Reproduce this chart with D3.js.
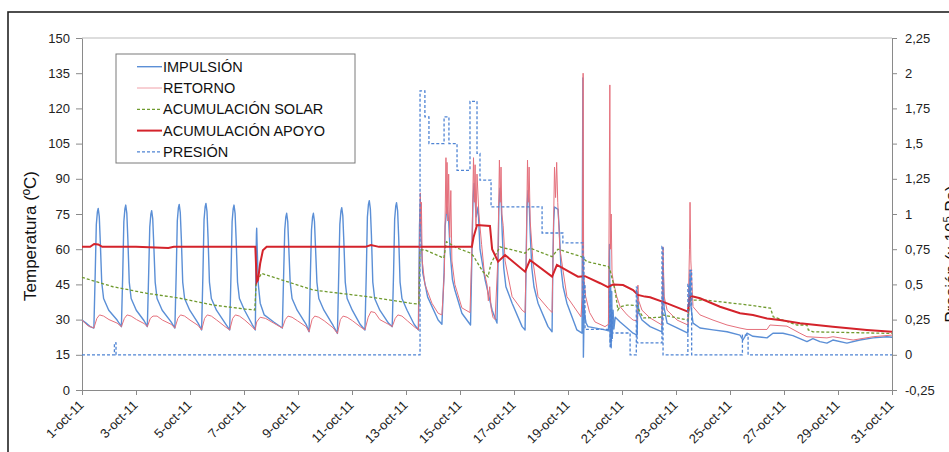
<!DOCTYPE html>
<html><head><meta charset="utf-8">
<script src="https://cdn.jsdelivr.net/npm/d3@7"></script>
<style>
html,body{margin:0;padding:0;background:#fff;overflow:hidden}
svg{display:block;font-family:"Liberation Sans",Arial,sans-serif}
</style></head><body>
<svg id="c" width="949" height="452"></svg>
<script>
// ---------- tick labels ----------
const xTickValues = [1,3,5,7,9,11,13,15,17,19,21,23,25,27,29,31];
const xTickLabels = ["1-oct-11","3-oct-11","5-oct-11","7-oct-11","9-oct-11","11-oct-11","13-oct-11","15-oct-11","17-oct-11","19-oct-11","21-oct-11","23-oct-11","25-oct-11","27-oct-11","29-oct-11","31-oct-11"];
const tempTicks = [0,15,30,45,60,75,90,105,120,135,150];
const presTicks = [-0.25,0,0.25,0.5,0.75,1,1.25,1.5,1.75,2,2.25];
const presTickLabels = ["-0,25","0","0,25","0,5","0,75","1","1,25","1,5","1,75","2","2,25"];
const seriesNames = ["IMPULSIÓN","RETORNO","ACUMULACIÓN SOLAR","ACUMULACIÓN APOYO","PRESIÓN"];

// ---------- series: [day of October, value] ----------
const impulsion = [
[1,29.8],[1.15,28.5],[1.3,27],[1.44,26.4],
[1.49,50],[1.53,70.4],[1.57,75.9],[1.6,77.4],[1.64,73.9],[1.68,62.4],[1.73,46],[1.8,39],[1.99,34],[2.3,29.8],[2.46,27],
[2.51,50],[2.55,71.8],[2.59,77.3],[2.62,78.8],[2.66,75.3],[2.7,63.8],[2.75,46],[2.82,39],[3.01,34],[3.3,29.5],[3.42,27],
[3.47,50],[3.51,69.4],[3.55,74.9],[3.58,76.4],[3.62,72.9],[3.66,61.4],[3.71,46],[3.78,39],[3.97,34],[4.3,29],[4.44,26.4],
[4.49,50],[4.53,72.1],[4.57,77.6],[4.6,79.1],[4.64,75.6],[4.68,64.1],[4.73,46],[4.8,39],[4.99,34],[5.3,28.5],[5.43,25.6],
[5.48,50],[5.52,72.5],[5.56,78],[5.59,79.5],[5.63,76],[5.67,64.5],[5.72,46],[5.79,39],[5.98,34],[6.33,28],[6.47,25.6],
[6.52,50],[6.56,71.8],[6.6,77.3],[6.63,78.8],[6.67,75.3],[6.71,63.8],[6.76,46],[6.83,39],[7.02,34],[7.3,28],[7.42,25.6],
[7.44,50],[7.46,66],[7.47,68.9],[7.49,60],[7.53,45],[7.6,37],[7.75,32],[8.1,29],[8.42,26.4],
[8.47,50],[8.51,68.3],[8.55,73.8],[8.58,75.3],[8.62,71.8],[8.66,60.3],[8.71,46],[8.78,39],[8.97,34],[9.3,28],[9.41,24.8],
[9.46,50],[9.5,68.3],[9.54,73.8],[9.57,75.3],[9.61,71.8],[9.65,60.3],[9.7,46],[9.77,39],[9.96,34],[10.3,27.5],[10.46,24.1],
[10.51,50],[10.55,70.7],[10.59,76.2],[10.62,77.7],[10.66,74.2],[10.7,62.7],[10.75,46],[10.82,39],[11.01,34],[11.3,28],[11.48,25.6],
[11.53,50],[11.57,73.7],[11.61,79.2],[11.64,80.7],[11.68,77.2],[11.72,65.7],[11.77,46],[11.84,39],[12.03,34],[12.35,28.5],[12.49,27],
[12.54,50],[12.58,72.8],[12.62,78.3],[12.65,79.8],[12.69,76.3],[12.73,64.8],[12.78,46],[12.85,39],[13.04,34],[13.3,28],[13.46,25.6],
[13.5,70],[13.53,80],[13.56,65],[13.62,50],[13.8,39.7],[14.19,29.8],[14.33,28],
[14.41,50],[14.45,70],[14.52,78],[14.58,72],[14.64,58],[14.72,47],[14.81,42.6],[15.07,32.7],[15.39,27.7],
[15.48,80],[15.52,88],[15.6,73.8],[15.67,78],[15.74,60],[15.93,46.9],[16.19,34],[16.37,28.5],
[16.41,55],[16.44,78],[16.48,86],[16.52,82],[16.56,68],[16.62,52],[16.7,44],[16.93,37],[17.3,27],[17.41,25.6],
[17.45,55],[17.48,77],[17.52,85],[17.56,81],[17.6,67],[17.66,52],[17.74,44],[17.89,37],[18.26,27],[18.41,24.8],
[18.44,55],[18.47,72],[18.5,78],[18.63,77],[18.68,68],[18.74,52],[18.82,44],[18.96,37],[19.33,25.6],[19.52,24.2],
[19.55,133],[19.57,14],[19.6,35],[19.63,31.2],[19.67,28.5],[19.74,27],[20.37,25.6],
[20.5,25.2],[20.54,62],[20.56,20],[20.58,45],[20.6,18],[20.62,42],[20.64,22],[20.67,34],[20.7,26],[20.75,31],[20.93,29],[21.19,26.4],[21.41,24.2],[21.56,23.4],
[21.59,39.8],[21.62,33],[21.74,29.8],[22.04,27],[22.48,24.8],
[22.52,53.3],[22.56,35],[22.67,28.5],[23.04,26.5],[23.44,24.2],
[23.52,51],[23.56,35],[23.63,28.5],[23.89,26.4],[24.37,25.6],[24.89,24.8],[25.37,23.4],[25.48,21.3],[25.63,24.2],[25.85,22.9],[26.37,22.2],[26.59,24.2],[26.96,24.2],[27.33,23.2],[27.85,20.6],[28.07,21.9],[28.33,20.6],[28.59,20],[28.81,21.3],[29.33,20],[29.81,21.3],[30.3,22.2],[30.81,22.7],[31,22.5]
];
const retorno = [
[1,29.8],[1.2,27.5],[1.44,26.4],
[1.55,30.5],[1.65,32],[1.8,31.5],[2.0,30],[2.3,28.5],[2.46,27],
[2.57,30.5],[2.67,32],[2.82,31.5],[3.02,30],[3.3,28.3],[3.42,27],
[3.53,30.5],[3.63,31.5],[3.78,31.5],[3.98,29.8],[4.3,28],[4.44,26.4],
[4.55,30.5],[4.65,32],[4.8,31.5],[5.0,29.8],[5.3,27.5],[5.43,25.6],
[5.54,30.5],[5.64,32],[5.79,31.5],[5.99,29.8],[6.3,27],[6.47,25.6],
[6.58,30.5],[6.68,32],[6.83,31.5],[7.03,29.8],[7.3,27],[7.41,25.6],
[7.47,29],[7.6,31],[7.8,30.5],[8.1,28.5],[8.42,26.4],
[8.53,30],[8.63,31.5],[8.78,31],[8.98,29.5],[9.3,27],[9.41,24.8],
[9.52,30],[9.62,31.5],[9.77,31],[9.97,29.5],[10.3,26.5],[10.46,24.1],
[10.57,30],[10.67,31.5],[10.82,31],[11.02,29.5],[11.3,27],[11.48,25.6],
[11.6,31],[11.7,33.4],[11.85,33],[12.03,30],[12.35,28],[12.49,27],
[12.6,30.5],[12.7,32],[12.85,31.5],[13.05,29.5],[13.3,27],[13.46,25.6],
[13.5,60],[13.53,84],[13.55,70],[13.57,80],[13.6,55],[13.7,45],[13.96,37],[14.19,32.7],[14.33,32],
[14.42,50],[14.48,99],[14.5,75],[14.52,97],[14.55,72],[14.58,92],[14.62,65],[14.66,85],[14.7,55],[14.81,45],[15.07,35],[15.37,33],
[15.44,60],[15.5,99],[15.53,80],[15.56,96],[15.59,70],[15.63,92],[15.7,75],[15.8,62],[15.9,50],[16.0,45],[16.05,38],[16.1,44],[16.15,35],[16.22,31],[16.3,30],
[16.4,55],[16.46,98],[16.49,80],[16.52,95],[16.55,75],[16.6,70],[16.67,55],[16.93,39.8],[17.3,34],[17.41,33],
[17.45,55],[17.5,98],[17.53,80],[17.56,95],[17.6,72],[17.7,55],[17.89,39.8],[18.26,34.8],[18.41,33],
[18.45,60],[18.5,95],[18.54,82],[18.58,97],[18.62,80],[18.7,60],[18.96,39.8],[19.48,31.2],
[19.53,40],[19.56,135],[19.58,50],[19.61,45],[19.65,40],[19.8,33],[20.0,29],[20.37,27],
[20.5,28],[20.55,130],[20.57,60],[20.6,75],[20.63,50],[20.67,46.9],[20.8,40],[20.93,35.5],[21.19,32],[21.41,29.8],[21.56,29.5],
[21.59,44.7],[21.62,38],[21.74,34],[22.04,30.7],[22.48,27.7],
[22.52,61],[22.56,40],[22.67,34],[23.04,29.8],[23.44,27.7],
[23.5,60],[23.52,80],[23.55,55],[23.63,35.5],[23.89,32],[24.37,29.8],[24.89,27.7],[25.37,26.4],[25.63,25.8],[26.37,25.8],[26.48,27.7],[27.11,27.2],[27.59,24.2],[27.85,22.7],[28.59,22.2],[28.81,22.7],[29.56,21.3],[30.3,22.7],[31,23.4]
];
const solar = [
[1,48],[2.15,44],[3.4,41.2],[4.63,39.1],[5.86,36.2],[7.1,34.4],[7.4,34.1],[7.45,45.6],[7.65,49.7],[9.56,42.6],[11.56,39.8],[13.15,37],[13.48,36.6],
[13.52,59.7],[13.7,59.7],[14.4,56.2],[14.5,63.2],[14.89,60.5],[15.4,58.3],[15.5,57],[15.85,50.4],[16.04,48.3],[16.15,54],[16.48,61],[17.41,58.3],[17.59,60.5],[18.41,56.8],[18.63,60],[19.5,56.8],[19.7,54.7],[20.5,52.6],[20.56,51],[20.74,42.6],[20.85,34.1],[20.93,35.5],[21.19,36.2],[21.56,36],[21.67,33],[21.8,30.7],[22.41,31],[22.5,32],[23.44,29.8],
[23.52,38.3],[24.1,38.3],[25.7,36.2],[26.5,34.9],[26.6,31.2],[27.48,27.7],[27.85,27.7],[27.9,25.6],[28.07,24.8],[31,24.1]
];
const apoyo = [
[1,61],[1.3,61],[1.45,62.2],[1.6,62],[1.75,61],[3,61],[4.2,60.5],[4.4,61],[7.42,61],[7.45,52],[7.47,46],[7.52,47],[7.6,54],[7.7,59.5],[7.84,61],[11.5,61],[11.7,61.8],[12.0,61],[15.44,61],
[15.5,65],[15.63,70.3],[16.11,69.9],[16.19,60],[16.41,54.7],[16.67,57.5],[17.41,50.4],[17.59,55.4],[18.41,48.3],[18.59,53.3],[19.37,48.3],[19.63,48.5],[20.19,45.5],[20.48,43.8],[20.67,45],[21.04,44.7],[21.41,42.6],[21.59,40.5],[21.85,39.8],[22.04,39.5],[22.67,36.9],[23.44,33.4],[23.52,40],[23.63,39.8],[23.89,39.1],[24.63,35.5],[25.37,32.7],[25.85,32],[26.37,30.5],[26.85,29.8],[27.59,28.4],[28.81,27],[30.07,25.6],[31,24.8]
];
const presion = [
[1,0],[2.19,0],[2.2,0.085],[2.25,0.085],[2.26,0],[13.5,0],[13.52,1.875],[13.7,1.69],[13.85,1.5],[14.41,1.69],[14.59,1.5],[14.89,1.31],[15.37,1.8],[15.63,1.43],[15.74,1.24],[16.15,1.05],[18.04,0.865],[18.81,0.795],
[19.54,0.795],[19.55,0.3],[19.57,0.7],[19.59,0.25],[19.61,0.5],[19.63,0.18],[20.52,0.18],[20.54,0.45],[20.56,0.05],[20.58,0.35],[20.6,0.1],[20.62,0.3],[20.64,0.155],[21.3,0],[21.53,0.48],[21.56,0.085],[22.46,0.085],[22.48,0.77],[22.52,0],[23.42,0],[23.44,0.5],[23.48,0.35],[23.52,0.6],[23.58,0],[25.44,0],[25.46,0.14],[25.65,0.14],[25.67,0],[31,0]
];

// ---------- chart ----------
const svg = d3.select("#c");
const x = d3.scaleLinear().domain([1,31]).range([82,892]);
const y = d3.scaleLinear().domain([0,150]).range([390,38]);
const yR = d3.scaleLinear().domain([-0.25,2.25]).range([390,38]);

svg.append("rect").attr("x",8).attr("y",12).attr("width",980).attr("height",480)
  .attr("fill","none").attr("stroke","#222").attr("stroke-width",1.6);
svg.append("line").attr("x1",82).attr("x2",892).attr("y1",38).attr("y2",38).attr("stroke","#bbb");

const axL = svg.append("g").attr("transform","translate(82,0)")
  .call(d3.axisLeft(y).tickValues(tempTicks).tickSize(6).tickPadding(6).tickSizeOuter(0));
const axR = svg.append("g").attr("transform","translate(892,0)")
  .call(d3.axisRight(yR).tickValues(presTicks).tickSize(5).tickPadding(8).tickSizeOuter(0)
  .tickFormat((d,i)=>presTickLabels[i]));
const axB = svg.append("g").attr("transform","translate(0,390)")
  .call(d3.axisBottom(x).tickValues(xTickValues).tickSize(5).tickSizeOuter(0)
  .tickFormat((d,i)=>xTickLabels[i]));
axB.selectAll("text").attr("y",0).attr("dy",0).attr("text-anchor","end")
  .attr("transform","translate(2,16) rotate(-45)");
[axL,axR,axB].forEach(a=>{
  a.select(".domain").attr("stroke","#8a8a8a");
  a.selectAll(".tick line").attr("stroke","#8a8a8a");
  a.selectAll("text").attr("fill","#222").style("font-size","13px").style("font-family",'"Liberation Sans",Arial,sans-serif');
});

const line = d3.line().x(d=>x(d[0])).y(d=>y(d[1]));
const lineP = d3.line().x(d=>x(d[0])).y(d=>yR(d[1])).curve(d3.curveStepAfter);
const plot = svg.append("g");
plot.append("path").attr("d",line(impulsion)).attr("fill","none").attr("stroke","#5b8fd6").attr("stroke-width",1.4).attr("stroke-linejoin","round");
plot.append("path").attr("d",line(retorno)).attr("fill","none").attr("stroke","#e5707c").attr("stroke-width",1);
plot.append("path").attr("d",line(solar)).attr("fill","none").attr("stroke","#6f9a2e").attr("stroke-width",1.3).attr("stroke-dasharray","3,2");
plot.append("path").attr("d",line(apoyo)).attr("fill","none").attr("stroke","#d4232b").attr("stroke-width",2);
plot.append("path").attr("d",lineP(presion)).attr("fill","none").attr("stroke","#4f84d4").attr("stroke-width",1.3).attr("stroke-dasharray","3,2");

// titles
svg.append("text").attr("transform","translate(36,236) rotate(-90)").attr("text-anchor","middle")
  .style("font-size","17px").attr("fill","#111").text("Temperatura (ºC)");
const tR = svg.append("text").attr("transform","translate(957,254) rotate(-90)").attr("text-anchor","middle")
  .style("font-size","17px").attr("fill","#111");
tR.append("tspan").text("Presión (x 10");
tR.append("tspan").attr("dy",-6).style("font-size","11px").text("5");
tR.append("tspan").attr("dy",6).text(" Pa)");

// legend
const lg = svg.append("g");
lg.append("rect").attr("x",116).attr("y",54).attr("width",239).attr("height",109)
  .attr("fill","#fff").attr("stroke","#7a7a7a");
const lgStyles = [
  {c:"#5b8fd6",w:1.4,d:null},{c:"#f0a0a8",w:1,d:null},{c:"#6f9a2e",w:1.3,d:"3,2"},
  {c:"#d4232b",w:2,d:null},{c:"#4f84d4",w:1.3,d:"3,2"}];
seriesNames.forEach((n,i)=>{
  const by = 71.7 + i*21.3;
  const s = lgStyles[i];
  lg.append("line").attr("x1",137).attr("x2",162).attr("y1",by-5).attr("y2",by-5)
    .attr("stroke",s.c).attr("stroke-width",s.w).attr("stroke-dasharray",s.d);
  lg.append("text").attr("x",163).attr("y",by).style("font-size","14.5px").attr("fill","#111").text(n);
});
</script>
</body></html>
